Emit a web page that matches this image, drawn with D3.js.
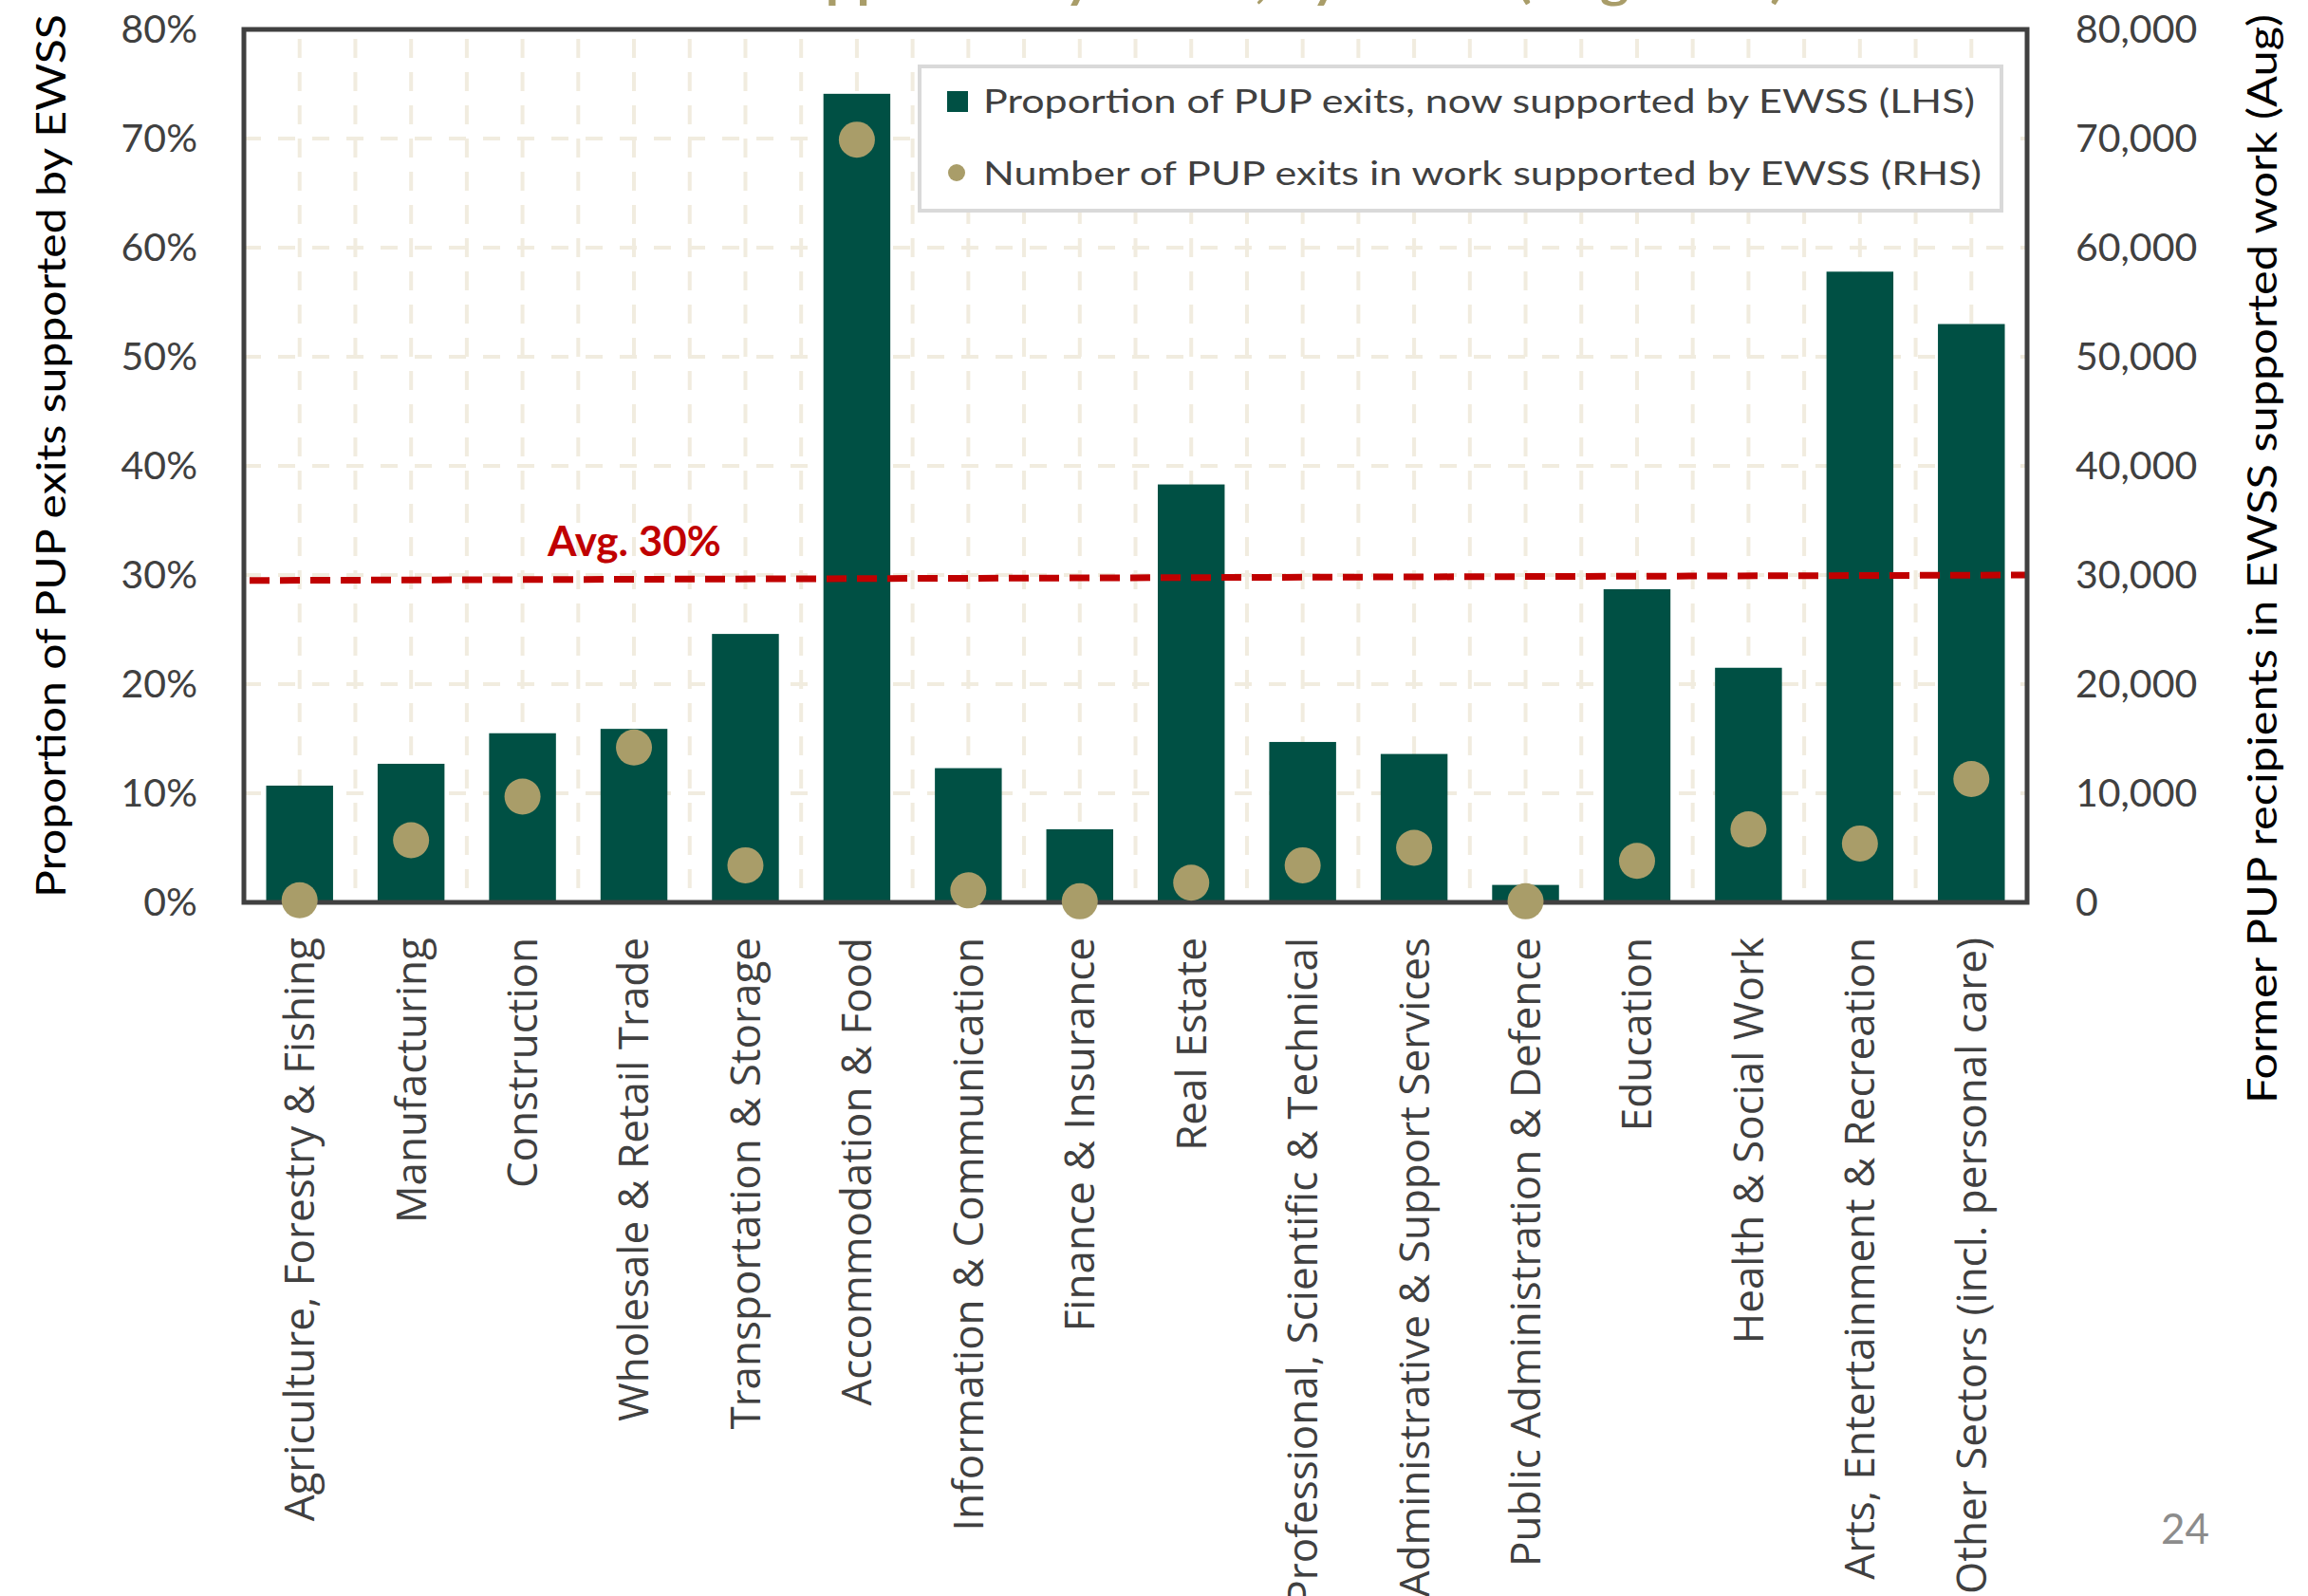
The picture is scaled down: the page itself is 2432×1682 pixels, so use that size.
<!DOCTYPE html>
<html>
<head>
<meta charset="utf-8">
<script src="https://cdn.jsdelivr.net/npm/d3@7"></script>
<style>
  body { margin: 0; background: #fff; }
  svg { display: block; font-family: Lato, "Open Sans", sans-serif; }
</style>
</head>
<body>
<svg id="chart"></svg>
<script>
const width = 2432, height = 1682;

// sectors on the x axis
const sectors = [
  "Agriculture, Forestry & Fishing", "Manufacturing", "Construction",
  "Wholesale & Retail Trade", "Transportation & Storage", "Accommodation & Food",
  "Information & Communication", "Finance & Insurance", "Real Estate",
  "Professional, Scientific & Technical", "Administrative & Support Services",
  "Public Administration & Defence", "Education", "Health & Social Work",
  "Arts, Entertainment & Recreation", "Other Sectors (incl. personal care)"
];
// proportion of PUP exits now supported by EWSS (LHS)
const proportion = [0.107, 0.127, 0.155, 0.159, 0.246, 0.741, 0.123, 0.067,
                    0.383, 0.147, 0.136, 0.016, 0.287, 0.215, 0.578, 0.530];
// number of PUP exits in work supported by EWSS (RHS)
const exits = [200, 5700, 9700, 14200, 3400, 69900, 1100, 100,
               1800, 3400, 5000, 100, 3800, 6700, 5400, 11300];
// average line, start and end (it is a bit tilted in the picture)
const avgLine = [0.295, 0.30];
const leftTicks = [0, 0.1, 0.2, 0.3, 0.4, 0.5, 0.6, 0.7, 0.8];
const rightTicks = [0, 10000, 20000, 30000, 40000, 50000, 60000, 70000, 80000];
const legendLabels = [
  "Proportion of PUP exits, now supported by EWSS (LHS)",
  "Number of PUP exits in work supported by EWSS (RHS)"
];

const barColor = "#005044", dotColor = "#A99D69", avgColor = "#C00000";
const margin = {top: 31, right: 296, bottom: 731, left: 257};

const svg = d3.select("#chart")
  .attr("width", width)
  .attr("height", height)
  .attr("viewBox", [0, 0, width, height]);

const x = d3.scaleBand()
  .domain(sectors)
  .range([margin.left, width - margin.right])
  .paddingInner(0.4)
  .paddingOuter(0.2);

const yL = d3.scaleLinear().domain([0, 0.8]).range([height - margin.bottom, margin.top]);
const yR = d3.scaleLinear().domain([0, 80000]).range([height - margin.bottom, margin.top]);

// title, mostly cut off at the top of the slide
svg.append("text")
  .attr("x", 548)
  .attr("y", -3)
  .attr("fill", dotColor)
  .attr("font-weight", "bold")
  .attr("font-size", 52)
  .attr("textLength", 1333)
  .attr("lengthAdjust", "spacingAndGlyphs")
  .text("PUP exits supported by EWSS, by sector (Aug 2021)");

// gridlines
const grid = svg.append("g");
const half = x.step() / 2;
const vx = d3.range(1, sectors.length * 2).map(i => margin.left + i * half);
grid.selectAll("line.v")
  .data(vx)
  .join("line")
  .attr("x1", d => d).attr("x2", d => d)
  .attr("y1", yL(0.8)).attr("y2", yL(0))
  .attr("stroke", "#F1ECDF")
  .attr("stroke-width", 4)
  .attr("stroke-dasharray", "20,15")
  .attr("stroke-dashoffset", -10);
grid.selectAll("line.h")
  .data(leftTicks.slice(1, -1))
  .join("line")
  .attr("x1", x.range()[0]).attr("x2", x.range()[1])
  .attr("y1", d => yL(d)).attr("y2", d => yL(d))
  .attr("stroke", "#F1ECDF")
  .attr("stroke-width", 4)
  .attr("stroke-dasharray", "18,18");

// bars
svg.append("g")
  .selectAll("rect")
  .data(sectors)
  .join("rect")
  .attr("x", d => x(d))
  .attr("y", (d, i) => yL(proportion[i]))
  .attr("width", x.bandwidth())
  .attr("height", (d, i) => yL(0) - yL(proportion[i]))
  .attr("fill", barColor);

// average line
svg.append("line")
  .attr("x1", x.range()[0] + 6)
  .attr("x2", x.range()[1])
  .attr("y1", yL(avgLine[0]))
  .attr("y2", yL(avgLine[1]))
  .attr("stroke", avgColor)
  .attr("stroke-width", 7)
  .attr("stroke-dasharray", "21,11");

svg.append("text")
  .attr("x", 577)
  .attr("y", 586)
  .attr("fill", avgColor)
  .attr("font-weight", "bold")
  .attr("font-size", 44)
  .text("Avg. 30%");

// frame
svg.append("rect")
  .attr("x", x.range()[0])
  .attr("y", yL(0.8))
  .attr("width", x.range()[1] - x.range()[0])
  .attr("height", yL(0) - yL(0.8))
  .attr("fill", "none")
  .attr("stroke", "#404040")
  .attr("stroke-width", 5);

// dots
svg.append("g")
  .selectAll("circle")
  .data(sectors)
  .join("circle")
  .attr("cx", d => x(d) + x.bandwidth() / 2)
  .attr("cy", (d, i) => yR(exits[i]))
  .attr("r", 19)
  .attr("fill", dotColor);

// left axis
svg.append("g")
  .attr("transform", `translate(${x.range()[0] - 46},0)`)
  .call(d3.axisLeft(yL).tickValues(leftTicks).tickFormat(d3.format(".0%")).tickSize(0))
  .call(g => g.select(".domain").remove())
  .call(g => g.selectAll("text")
    .attr("font-size", 41)
    .attr("font-family", "Lato")
    .attr("fill", "#404040"));

// right axis
svg.append("g")
  .attr("transform", `translate(${x.range()[1] + 48},0)`)
  .call(d3.axisRight(yR).tickValues(rightTicks).tickFormat(d3.format(",")).tickSize(0))
  .call(g => g.select(".domain").remove())
  .call(g => g.selectAll("text")
    .attr("font-size", 41)
    .attr("font-family", "Lato")
    .attr("fill", "#404040"));

// category labels
svg.append("g")
  .attr("transform", `translate(0,${yL(0) + 37})`)
  .call(d3.axisBottom(x).tickSize(0).tickPadding(0))
  .call(g => g.select(".domain").remove())
  .call(g => g.selectAll("text")
    .attr("font-size", 44)
    .attr("font-family", "'Open Sans', sans-serif")
    .attr("fill", "#404040")
    .attr("text-anchor", "end")
    .attr("transform", "rotate(-90)")
    .attr("x", 0)
    .attr("y", 0)
    .attr("dy", "0.35em"));

// axis titles
svg.append("text")
  .attr("transform", `translate(54,${(15 + 946) / 2}) rotate(-90)`)
  .attr("text-anchor", "middle")
  .attr("dy", "0.35em")
  .attr("font-size", 43)
  .attr("fill", "#000")
  .attr("textLength", 931)
  .attr("lengthAdjust", "spacingAndGlyphs")
  .text("Proportion of PUP exits supported by EWSS");

svg.append("text")
  .attr("transform", `translate(2384,${(15 + 1163) / 2}) rotate(-90)`)
  .attr("text-anchor", "middle")
  .attr("dy", "0.35em")
  .attr("font-size", 43)
  .attr("fill", "#000")
  .attr("textLength", 1148)
  .attr("lengthAdjust", "spacingAndGlyphs")
  .text("Former PUP recipients in EWSS supported work (Aug)");

// legend
const legend = svg.append("g");
legend.append("rect")
  .attr("x", 969).attr("y", 70)
  .attr("width", 1140).attr("height", 152)
  .attr("fill", "#fff")
  .attr("stroke", "#D9D9D9")
  .attr("stroke-width", 4);
legend.append("rect")
  .attr("x", 998).attr("y", 96)
  .attr("width", 22).attr("height", 22)
  .attr("fill", barColor);
legend.append("circle")
  .attr("cx", 1008).attr("cy", 182)
  .attr("r", 9)
  .attr("fill", dotColor);
legend.selectAll("text")
  .data(legendLabels)
  .join("text")
  .attr("x", 1036)
  .attr("y", (d, i) => 107 + i * 76)
  .attr("dy", "0.35em")
  .attr("font-size", 34)
  .attr("fill", "#404040")
  .attr("textLength", (d, i) => i === 0 ? 1045 : 1052)
  .attr("lengthAdjust", "spacingAndGlyphs")
  .text(d => d);

// slide number
svg.append("text")
  .attr("x", 2277)
  .attr("y", 1627)
  .attr("font-size", 44)
  .attr("fill", "#8C8C8C")
  .text("24");
</script>
</body>
</html>
